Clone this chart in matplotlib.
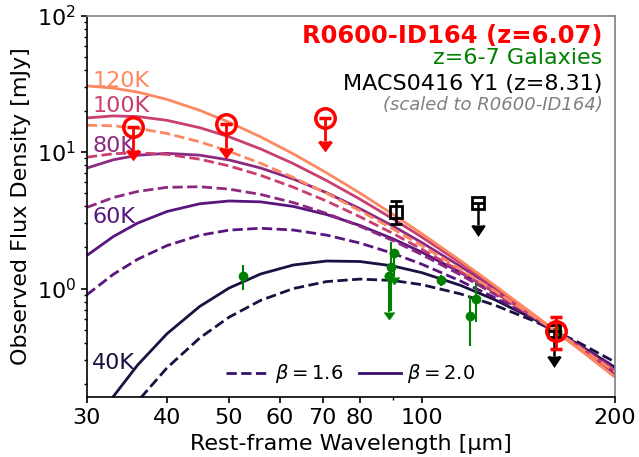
"""Dust SED: modified blackbody curves vs. far-IR photometry"""
import matplotlib
matplotlib.use('Agg')
import matplotlib.pyplot as plt
from matplotlib.ticker import NullFormatter

# rest-frame wavelength grid [um] for the curves
wave = [30, 33, 36, 40, 45, 50, 56, 63, 71, 80, 90, 100, 115, 130, 150, 175, 200]
temp_labels = ['40K', '60K', '80K', '100K', '120K']

# beta = 2.0 (solid), flux in mJy
b20_40k = [0.0819, 0.162, 0.275, 0.466, 0.739, 1.007, 1.277, 1.487, 1.590, 1.577, 1.465, 1.306, 1.053, 0.827, 0.593, 0.393, 0.265]
b20_60k = [1.747, 2.405, 3.015, 3.665, 4.178, 4.378, 4.314, 3.993, 3.484, 2.899, 2.319, 1.844, 1.308, 0.937, 0.616, 0.379, 0.243]
b20_80k = [7.63, 8.78, 9.47, 9.78, 9.48, 8.75, 7.64, 6.34, 5.03, 3.85, 2.88, 2.17, 1.448, 0.994, 0.627, 0.373, 0.234]
b20_100k = [17.78, 18.39, 18.18, 17.07, 15.08, 12.93, 10.54, 8.22, 6.18, 4.52, 3.25, 2.38, 1.535, 1.028, 0.633, 0.369, 0.228]
b20_120k = [30.5, 29.4, 27.5, 24.3, 20.2, 16.55, 12.92, 9.69, 7.04, 5.01, 3.51, 2.52, 1.593, 1.051, 0.637, 0.367, 0.225]

# beta = 1.6 (dashed)
b16_40k = [0.0422, 0.0857, 0.149, 0.262, 0.434, 0.616, 0.818, 0.999, 1.124, 1.172, 1.145, 1.067, 0.912, 0.755, 0.575, 0.406, 0.290]
b16_60k = [0.900, 1.272, 1.637, 2.063, 2.454, 2.678, 2.762, 2.682, 2.461, 2.155, 1.813, 1.506, 1.133, 0.855, 0.597, 0.392, 0.266]
b16_80k = [3.93, 4.64, 5.14, 5.51, 5.57, 5.35, 4.89, 4.26, 3.55, 2.86, 2.25, 1.77, 1.255, 0.907, 0.608, 0.386, 0.256]
b16_100k = [9.16, 9.72, 9.87, 9.61, 8.86, 7.91, 6.75, 5.52, 4.37, 3.36, 2.54, 1.94, 1.330, 0.938, 0.614, 0.382, 0.250]
b16_120k = [15.71, 15.56, 14.93, 13.67, 11.88, 10.12, 8.27, 6.51, 4.98, 3.72, 2.74, 2.06, 1.380, 0.959, 0.618, 0.379, 0.246]

# temperature label anchors (wavelength, flux)
label_wave = 30.6
label_flux = [0.259, 3.0, 10.05, 19.8, 30.1]

# R0600-ID164 (z=6.07)
r0600_ul_wave = [35.4, 49.5, 70.7]
r0600_ul_flux = [15.3, 16.0, 17.7]
r0600_ul_err = [5.0, 5.3, 5.6]
r0600_wave = [162.0]
r0600_flux = [0.49]
r0600_err = [0.13]

# z=6-7 galaxies
gal_wave = [52.6, 89.6, 107.2, 118.7, 121.3, 162.3]
gal_flux = [1.23, 1.44, 1.15, 0.63, 0.835, 0.49]
gal_err = [0.25, 0.75, 0.10, 0.25, 0.27, 0.08]
gal_ul_wave = [90.6, 89.0]
gal_ul_flux = [1.81, 1.23]
gal_ul_err = [0.60, 0.56]

# MACS0416 Y1 (scaled)
y1_wave = [91.0]
y1_flux = [3.65]
y1_err = [0.70]
y1_ul_wave = [122.2, 161.0]
y1_ul_flux = [4.25, 0.49]
y1_ul_err = [1.34, 0.17]

fig = plt.figure(figsize=(6.39, 4.57), dpi=100)
ax = fig.add_axes([0.136, 0.131, 0.826, 0.835])

cmap = plt.get_cmap('magma')
colors = [cmap(v) for v in (0.12, 0.27, 0.40, 0.55, 0.75)]
solid_curves = [b20_40k, b20_60k, b20_80k, b20_100k, b20_120k]
dashed_curves = [b16_40k, b16_60k, b16_80k, b16_100k, b16_120k]

for s, d, c, lab, ly in zip(solid_curves, dashed_curves, colors, temp_labels, label_flux):
    ax.plot(wave, d, ls='--', lw=2, color=c)
    ax.plot(wave, s, ls='-', lw=2, color=c)
    ax.text(label_wave, ly, lab, color=c, fontsize=16, ha='left', va='baseline')

# legend handles
leg_c = cmap(0.2)
ax.plot([], [], ls='--', lw=2, color=leg_c, label=r'$\beta = 1.6$')
ax.plot([], [], ls='-', lw=2, color=leg_c, label=r'$\beta = 2.0$')

# photometry
ax.errorbar(gal_wave, gal_flux, yerr=gal_err, fmt='o', color='green', ms=6,
            elinewidth=1.5, capsize=0, zorder=5)
ax.errorbar(gal_ul_wave, gal_ul_flux, yerr=gal_ul_err, uplims=True, fmt='o',
            color='green', ms=6, elinewidth=1.5, capsize=3.3, zorder=5)

ax.errorbar(y1_wave, y1_flux, yerr=y1_err, fmt='s', mfc='none', mec='black',
            color='black', ms=9, mew=2, elinewidth=1.8, capsize=4.5, capthick=2, zorder=6)
ax.errorbar(y1_ul_wave, y1_ul_flux, yerr=y1_ul_err, uplims=True, fmt='s', mfc='none',
            mec='black', color='black', ms=9, mew=2, elinewidth=1.8, capsize=4.5,
            capthick=2, zorder=6)

ax.errorbar(r0600_ul_wave, r0600_ul_flux, yerr=r0600_ul_err, uplims=True, fmt='o',
            mfc='none', mec='red', color='red', ms=14, mew=2.5, elinewidth=2,
            capsize=4, capthick=2, zorder=7)
ax.errorbar(r0600_wave, r0600_flux, yerr=r0600_err, fmt='o', mfc='none', mec='red',
            color='red', ms=14, mew=2.5, elinewidth=2, capsize=4, capthick=2, zorder=7)

# source names
ax.text(0.977, 0.929, 'R0600-ID164 (z=6.07)', transform=ax.transAxes, ha='right',
        va='baseline', fontsize=17.5, fontweight='bold', color='red')
ax.text(0.977, 0.872, 'z=6-7 Galaxies', transform=ax.transAxes, ha='right',
        va='baseline', fontsize=16, color='green')
ax.text(0.977, 0.805, 'MACS0416 Y1 (z=8.31)', transform=ax.transAxes, ha='right',
        va='baseline', fontsize=16, color='black')
ax.text(0.977, 0.753, '(scaled to R0600-ID164)', transform=ax.transAxes, ha='right',
        va='baseline', fontsize=13, style='italic', color='gray')

ax.set_xscale('log')
ax.set_yscale('log')
ax.set_xlim(30, 200)
ax.set_ylim(0.16, 100)
xt = [30, 40, 50, 60, 70, 80, 100, 200]
ax.set_xticks(xt)
ax.set_xticklabels([str(v) for v in xt])
ax.xaxis.set_minor_formatter(NullFormatter())
ax.tick_params(which='major', labelsize=16, length=4.5, width=1.2)
ax.tick_params(which='minor', length=2.5, width=1.0)

for side in ['top', 'right']:
    ax.spines[side].set_color('gray')
for side in ax.spines:
    ax.spines[side].set_linewidth(1.2)

ax.set_xlabel('Rest-frame Wavelength [\u03bcm]', fontsize=16)
ax.set_ylabel('Observed Flux Density [mJy]', fontsize=16)

ax.legend(loc='lower center', ncol=2, frameon=False, fontsize=14,
          handlelength=2.2, handletextpad=0.3, columnspacing=0.8, borderaxespad=0.2)

plt.savefig('out.png', dpi=100)
